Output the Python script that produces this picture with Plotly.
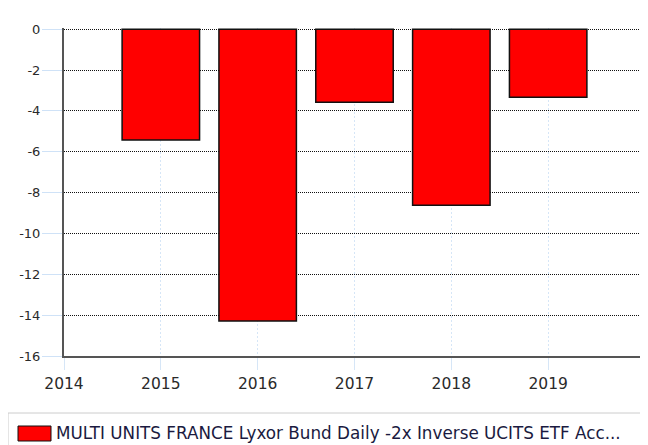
import plotly.graph_objects as go

years = [2015, 2016, 2017, 2018, 2019]
returns = [-5.43, -14.29, -3.58, -8.62, -3.33]
series_name = "MULTI UNITS FRANCE Lyxor Bund Daily -2x Inverse UCITS ETF Acc..."
x_ticks = [2014, 2015, 2016, 2017, 2018, 2019]
y_ticks = [0, -2, -4, -6, -8, -10, -12, -14, -16]

fig = go.Figure()
fig.add_trace(go.Bar(
    x=years, y=returns, width=0.8, name=series_name,
    marker=dict(color="#ff0000", line=dict(color="#111111", width=1.5)),
    showlegend=False,
))

# page body has an 8px margin, so the figure is shifted by 8px
fig.update_layout(
    width=640, height=437,
    margin=dict(l=56, r=3, t=20, b=89, autoexpand=False),
    plot_bgcolor="white", paper_bgcolor="white",
    font=dict(family="DejaVu Sans", color="#333333"),
)
fig.update_xaxes(
    range=[2014, 2020], tickvals=x_ticks, ticktext=[str(v) for v in x_ticks],
    showgrid=True, gridcolor="#d6e6f7", griddash="2px,2px", gridwidth=1,
    ticks="outside", ticklen=12, tickcolor="#d6e6f7", tickwidth=1,
    showline=True, linecolor="#555555", linewidth=2,
    tickfont=dict(size=15.5, color="#2a2a2a"), zeroline=False, automargin=False,
)
fig.update_yaxes(
    range=[-16, 0.06], tickvals=y_ticks, ticktext=[str(v) for v in y_ticks],
    showgrid=True, gridcolor="#111111", griddash="1px,1px", gridwidth=1,
    ticks="outside", ticklen=20, tickcolor="#cfe2f7", tickwidth=1,
    showline=True, linecolor="#555555", linewidth=2,
    tickfont=dict(size=13, color="#2a2a2a"), zeroline=False, automargin=False,
    ticklabelstandoff=-1,
)

W, H, L, B = 581, 328, 56, 348  # plot area geometry in figure px
def px(x):
    return (x - 8 - L) / W
def py(y):
    return (B - (y - 8)) / H

# legend box
fig.add_shape(type="rect", xref="paper", yref="paper",
              x0=px(8), x1=px(643), y0=py(413), y1=py(450),
              line=dict(color="#cccccc", width=1), fillcolor="white")
fig.add_shape(type="rect", xref="paper", yref="paper",
              x0=px(18), x1=px(51), y0=py(426), y1=py(441),
              line=dict(color="#111111", width=1), fillcolor="#ff0000")
fig.add_annotation(text=series_name, xref="paper", yref="paper",
                   x=px(54), y=py(433), xanchor="left", yanchor="middle",
                   showarrow=False, font=dict(size=16.8, color="#1a1a40", family="DejaVu Sans"))

fig.write_html("out.html")
